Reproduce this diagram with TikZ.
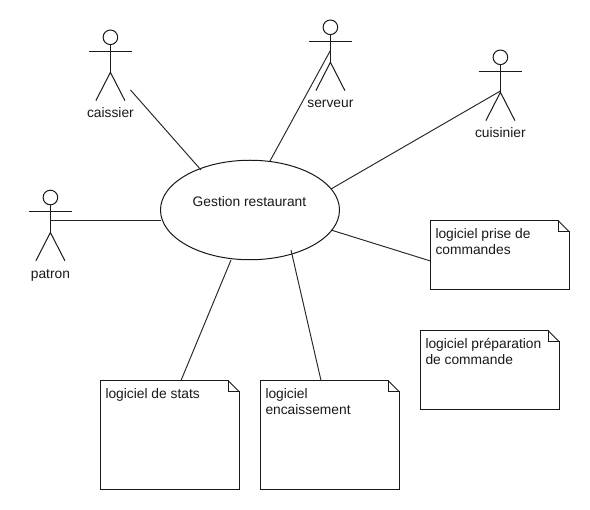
\documentclass[tikz,border=0pt]{standalone}
\usepackage{fontspec}
\setmainfont{Liberation Sans}
\usetikzlibrary{calc,shapes.geometric}
\tikzset{
  x=1pt,y=-1pt,
  umlline/.style={draw=black!90,line width=1pt,line join=miter},
  link/.style={draw=black!85,line width=0.95pt},
  labeltext/.style={font=\fontsize{13.8}{16}\selectfont,text=black!90,inner sep=0pt},
  notetext/.style={labeltext,align=left,anchor=north west},
  usecase/.style={ellipse,draw=black!90,line width=1pt,minimum width=179pt,minimum height=99.5pt,inner sep=0pt,outer sep=0pt}
}
% \umlactor{name}{head x}{head y}{label}
\newcommand{\umlactor}[4]{%
  \node[circle,draw=black!90,line width=1pt,minimum size=14.6pt,inner sep=0pt,outer sep=0pt] (#1) at (#2,#3) {};
  \coordinate (#1-body) at (#2,#3+14);
  \coordinate (#1-hip) at (#2,#3+35);
  \coordinate (#1-hand1) at (#2-21.5,#3+14);
  \coordinate (#1-hand2) at (#2+21.5,#3+14);
  \coordinate (#1-foot1) at (#2-14.5,#3+63.3);
  \coordinate (#1-foot2) at (#2+14.5,#3+63.3);
  \draw[umlline] (#1.south) -- (#1-hip);
  \draw[umlline] (#1-hand1) -- (#1-hand2);
  \draw[umlline] (#1-foot1) -- (#1-hip) -- (#1-foot2);
  \node[labeltext,anchor=base] (#1-label) at (#2,#3+80.6) {#4};
}
% \umlnote{name}{left}{top}{width}{height}{text}
\newcommand{\umlnote}[6]{%
  \node[inner sep=0pt,outer sep=0pt,minimum width=#4pt,minimum height=#5pt,anchor=north west] (#1) at (#2,#3) {};
  \draw[umlline] ($(#1.north east)+(-11.5,0)$) -- (#1.north west) -- (#1.south west) -- (#1.south east) -- ($(#1.north east)+(0,11.5)$) -- ($(#1.north east)+(-11.5,11.5)$) -- cycle;
  \draw[umlline] ($(#1.north east)+(-11.5,0)$) -- ($(#1.north east)+(0,11.5)$);
  \node[notetext] (#1-text) at ($(#1.north west)+(4.8,8)$) {#6};
}
\begin{document}
\begin{tikzpicture}
\useasboundingbox (0,0) rectangle (590,510);
\fill[white] (0,0) rectangle (590,510);
\node[usecase] (uc) at (250,210) {};
\node[labeltext,anchor=base] (uctext) at (249.5,206.8) {Gestion restaurant};
\umlactor{caissier}{110.4}{37.3}{caissier}
\umlactor{serveur}{330.4}{27.3}{serveur}
\umlactor{cuisinier}{500.4}{57.3}{cuisinier}
\umlactor{patron}{50.4}{197.5}{patron}
\umlnote{prise}{430.5}{220.5}{139}{69}{logiciel prise de\\commandes}
\umlnote{prep}{420.5}{330.5}{139}{79}{logiciel préparation\\de commande}
\umlnote{stats}{100.5}{380.5}{139}{109}{logiciel de stats}
\umlnote{enc}{260.5}{380.5}{139}{109}{logiciel\\encaissement}
\coordinate (caissier-end) at (130.5,90);
\coordinate (uc-c) at (201,170);
\coordinate (uc-s) at (270,161);
\coordinate (uc-k) at (331,189);
\coordinate (uc-n) at (331,230);
\coordinate (uc-st) at (231,260);
\coordinate (uc-e) at (291,250);
\coordinate (uc-p) at (161,220.5);
\coordinate (patron-link) at (50.4,220.5);
\coordinate (serveur-link) at (330.4,50.5);
\coordinate (cuisinier-link) at (500.4,91);
\coordinate (prise-link) at (430.5,261);
\coordinate (stats-link) at (181,380.5);
\coordinate (enc-link) at (321,380.5);
\draw[link] (caissier-end) -- (uc-c);
\draw[link] (serveur-link) -- (uc-s);
\draw[link] (cuisinier-link) -- (uc-k);
\draw[link] (patron-link) -- (uc-p);
\draw[link] (uc-n) -- (prise-link);
\draw[link] (uc-st) -- (stats-link);
\draw[link] (uc-e) -- (enc-link);
\end{tikzpicture}
\end{document}
